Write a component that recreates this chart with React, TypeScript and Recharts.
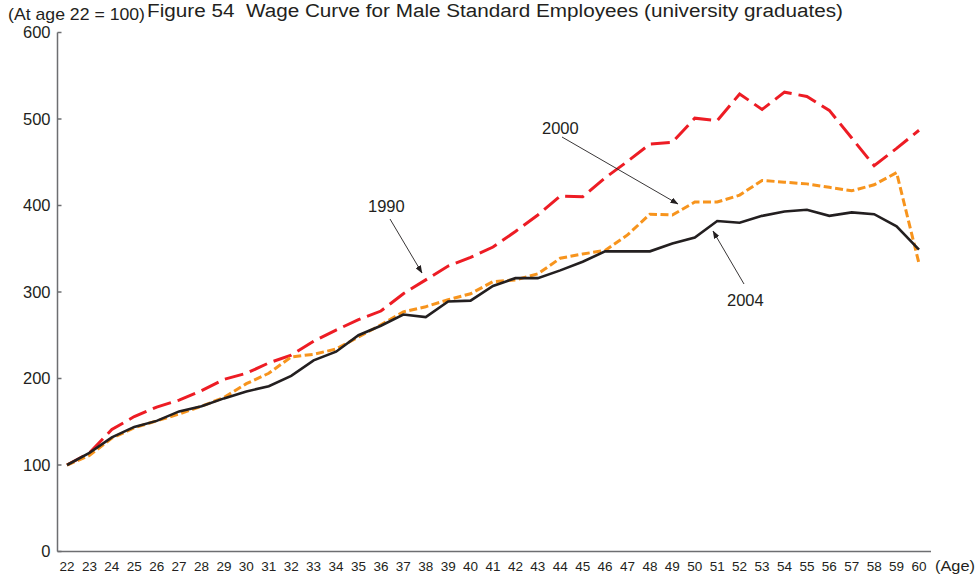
import { LineChart, Line, XAxis, YAxis } from "recharts"

const ages = [
  22, 23, 24, 25, 26, 27, 28, 29, 30, 31, 32, 33, 34, 35, 36, 37, 38, 39, 40,
  41, 42, 43, 44, 45, 46, 47, 48, 49, 50, 51, 52, 53, 54, 55, 56, 57, 58, 59, 60,
]

const wage1990 = [
  100, 114, 141, 156, 167, 175, 186, 199, 206, 218, 227, 243, 256, 268, 278, 298, 314, 330, 340,
  352, 370, 389, 411, 410, 432, 451, 471, 473, 501, 498, 529, 511, 531, 526, 510, 478, 446, 466, 487,
]

const wage2000 = [
  100, 111, 131, 143, 151, 159, 168, 178, 194, 206, 225, 228, 234, 248, 262, 277, 283, 291, 298,
  312, 314, 321, 339, 344, 348, 366, 390, 389, 404, 404, 412, 429, 427, 425, 421, 417, 424, 438, 333,
]

const wage2004 = [
  100, 114, 132, 144, 151, 162, 168, 177, 185, 191, 203, 221, 231, 250, 261, 274, 271, 289, 290,
  307, 316, 316, 325, 335, 347, 347, 347, 356, 363, 382, 380, 388, 393, 395, 388, 392, 390, 376, 349,
]

const yTicks = [0, 100, 200, 300, 400, 500, 600]

const data = ages.map((age, i) => ({
  age,
  y1990: wage1990[i],
  y2000: wage2000[i],
  y2004: wage2004[i],
}))

const font = "'Liberation Sans', Arial, Helvetica, sans-serif"
const ink = "#231f20"
const frame = "#6d6e71"

function Arrow({ x1, y1, x2, y2 }: { x1: number; y1: number; x2: number; y2: number }) {
  return <line x1={x1} y1={y1} x2={x2} y2={y2} stroke={ink} strokeWidth={0.9} markerEnd="url(#head)" />
}

export default function App() {
  return (
    <div style={{ position: "fixed", left: 0, top: 0, width: 977, height: 577, overflow: "hidden", background: "#fff" }}>
      <LineChart
        width={977}
        height={577}
        data={data}
        margin={{ top: 32.5, right: 46, bottom: 0, left: 0 }}
        style={{ fontFamily: font }}
      >
        <XAxis
          dataKey="age"
          type="number"
          domain={[22, 60]}
          ticks={ages}
          interval={0}
          padding={{ left: 9.5, right: 12 }}
          tickLine={false}
          tickSize={0}
          tickMargin={10}
          height={25.5}
          stroke={frame}
          strokeWidth={1.5}
          tick={{ fill: ink, fontSize: 13.5 }}
        />
        <XAxis
          xAxisId="top"
          orientation="top"
          dataKey="age"
          type="number"
          domain={[22, 60]}
          tick={false}
          tickLine={false}
          height={0}
          stroke={frame}
          strokeWidth={1.5}
        />
        <YAxis
          domain={[0, 600]}
          ticks={yTicks}
          width={57.5}
          tickSize={-4}
          tickMargin={11}
          stroke={frame}
          strokeWidth={1.5}
          tick={{ fill: ink, fontSize: 16.5 }}
        />
        <YAxis
          yAxisId="right"
          orientation="right"
          domain={[0, 600]}
          tick={false}
          tickLine={false}
          width={0}
          stroke={frame}
          strokeWidth={1.5}
        />
        <Line
          dataKey="y1990"
          type="linear"
          stroke="#ed1c24"
          strokeWidth={3}
          strokeDasharray="19 7"
          dot={false}
          isAnimationActive={false}
        />
        <Line
          dataKey="y2000"
          type="linear"
          stroke="#f7941d"
          strokeWidth={3}
          strokeDasharray="8 3.5"
          dot={false}
          isAnimationActive={false}
        />
        <Line
          dataKey="y2004"
          type="linear"
          stroke={ink}
          strokeWidth={2.6}
          dot={false}
          isAnimationActive={false}
        />
      </LineChart>

      <svg
        width={977}
        height={577}
        style={{ position: "absolute", left: 0, top: 0, pointerEvents: "none", fontFamily: font }}
      >
        <defs>
          <marker id="head" markerWidth="8" markerHeight="6" refX="7.5" refY="3" orient="auto" markerUnits="userSpaceOnUse">
            <path d="M0,0 L8,3 L0,6 Z" fill={ink} />
          </marker>
        </defs>
        <text x={147} y={16.5} fontSize={18} fill={ink} textLength={696} lengthAdjust="spacingAndGlyphs" style={{ whiteSpace: "pre" }}>
          {"Figure 54  Wage Curve for Male Standard Employees (university graduates)"}
        </text>
        <text x={8} y={20} fontSize={17} fill={ink} textLength={137} lengthAdjust="spacingAndGlyphs">
          (At age 22 = 100)
        </text>
        <text x={935} y={571} fontSize={15} fill={ink} textLength={40} lengthAdjust="spacingAndGlyphs">(Age)</text>

        <text x={368} y={212} fontSize={16.5} fill={ink}>1990</text>
        <Arrow x1={390} y1={219} x2={422} y2={273} />
        <text x={542} y={134} fontSize={16.5} fill={ink}>2000</text>
        <Arrow x1={562} y1={137} x2={678} y2={204} />
        <text x={727} y={306} fontSize={16.5} fill={ink}>2004</text>
        <Arrow x1={744} y1={284} x2={713} y2={231} />
      </svg>
    </div>
  )
}
